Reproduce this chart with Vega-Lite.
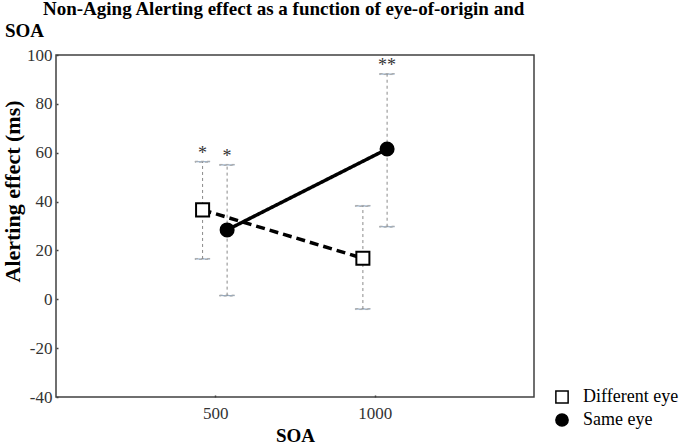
{
  "$schema": "https://vega.github.io/schema/vega-lite/v6.json",
  "autosize": "none",
  "width": 478,
  "height": 342,
  "padding": {"left": 56, "top": 55, "right": 151, "bottom": 48},
  "background": "white",
  "title": {
    "text": ["\u200b\u00a0\u00a0\u00a0\u00a0\u00a0\u00a0\u00a0\u00a0Non-Aging Alerting effect as a function of eye-of-origin and", "SOA"],
    "anchor": "start",
    "frame": "group",
    "dx": -51,
    "font": "Liberation Serif",
    "fontSize": 19,
    "fontWeight": "bold",
    "color": "black",
    "lineHeight": 22,
    "offset": 5
  },
  "config": {
    "view": {"stroke": "#404040", "strokeWidth": 1.5},
    "axis": {
      "labelFont": "Liberation Serif",
      "labelFontSize": 17,
      "labelColor": "#333333",
      "titleFont": "Liberation Serif",
      "titleFontSize": 20,
      "titleFontWeight": "bold",
      "titleColor": "black",
      "grid": false,
      "domain": false,
      "tickColor": "#404040",
      "tickSize": -2,
      "tickWidth": 1.5
    },
    "legend": {
      "labelFont": "Liberation Serif",
      "labelFontSize": 18,
      "labelColor": "black"
    }
  },
  "data": {
    "values": [
      {"group": "Different eye", "x": 460, "value": 36.6, "lo": 16.5, "hi": 56.3, "sig": "*"},
      {"group": "Different eye", "x": 963, "value": 16.8, "lo": -4, "hi": 38.2, "sig": ""},
      {"group": "Same eye", "x": 537, "value": 28.4, "lo": 1.5, "hi": 55, "sig": "*"},
      {"group": "Same eye", "x": 1039, "value": 61.5, "lo": 29.7, "hi": 92.2, "sig": "**"}
    ]
  },
  "encoding": {
    "x": {
      "field": "x", "type": "quantitative",
      "scale": {"domain": [0, 1500], "nice": false, "zero": false},
      "axis": {"values": [500, 1000], "format": "d", "title": "SOA", "labelPadding": 10, "titlePadding": 5, "titleFontSize": 19}
    }
  },
  "layer": [
    {
      "mark": {"type": "rule", "stroke": "#8a8a8a", "strokeWidth": 1, "strokeDash": [3, 3]},
      "encoding": {
        "y": {"field": "lo", "type": "quantitative",
          "scale": {"domain": [-40, 100], "nice": false, "zero": false},
          "axis": {"values": [-40, -20, 0, 20, 40, 60, 80, 100], "labelExpr": "datum.value < 0 ? '-' + abs(datum.value) : '' + datum.value", "title": "Alerting effect (ms)", "labelPadding": 6, "titleFontSize": 22, "titleX": -32, "titleY": 136}},
        "y2": {"field": "hi"}
      }
    },
    {
      "mark": {"type": "tick", "stroke": "#8a8a8a", "strokeWidth": 1, "strokeDash": [3, 3], "size": 15, "thickness": 1, "orient": "horizontal"},
      "encoding": {"y": {"field": "lo", "type": "quantitative"}}
    },
    {
      "mark": {"type": "tick", "stroke": "#8a8a8a", "strokeWidth": 1, "strokeDash": [3, 3], "size": 15, "thickness": 1, "orient": "horizontal"},
      "encoding": {"y": {"field": "hi", "type": "quantitative"}}
    },
    {
      "mark": {"type": "line", "stroke": "black", "strokeWidth": 3.5},
      "encoding": {
        "y": {"field": "value", "type": "quantitative"},
        "detail": {"field": "group"},
        "strokeDash": {"field": "group", "type": "nominal",
          "scale": {"domain": ["Same eye", "Different eye"], "range": [[1, 0], [9, 5]]},
          "legend": null}
      }
    },
    {
      "mark": {"type": "point", "filled": true, "stroke": "black", "strokeWidth": 2, "size": 170, "opacity": 1},
      "encoding": {
        "y": {"field": "value", "type": "quantitative"},
        "shape": {"field": "group", "type": "nominal",
          "scale": {"domain": ["Different eye", "Same eye"], "range": ["square", "circle"]},
          "legend": {"title": null, "orient": "none", "legendX": 497, "legendY": 333, "padding": 0, "symbolSize": 150, "rowPadding": 3, "labelOffset": 12,
            "encode": {"symbols": {"update": {"stroke": {"value": "black"}, "strokeWidth": {"value": 2}, "opacity": {"value": 1}}}}}},
        "fill": {"field": "group", "type": "nominal",
          "scale": {"domain": ["Different eye", "Same eye"], "range": ["white", "black"]},
          "legend": {"title": null, "orient": "none", "legendX": 497, "legendY": 333, "padding": 0, "symbolSize": 150, "rowPadding": 3, "labelOffset": 12,
            "encode": {"symbols": {"update": {"stroke": {"value": "black"}, "strokeWidth": {"value": 2}, "opacity": {"value": 1}}}}}}
      }
    },
    {
      "mark": {"type": "text", "font": "Liberation Serif", "fontSize": 18, "color": "#333333", "baseline": "bottom", "dy": 1},
      "encoding": {
        "y": {"field": "hi", "type": "quantitative"},
        "text": {"field": "sig"}
      }
    }
  ]
}
